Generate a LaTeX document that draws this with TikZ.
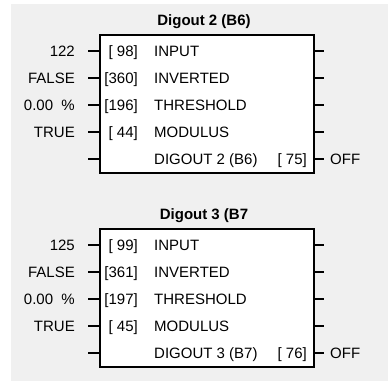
\documentclass[tikz,border=0pt]{standalone}
\usepackage{fontspec}
\setmainfont{Liberation Sans}
\definecolor{panel}{RGB}{240,240,240}

\begin{document}
\begin{tikzpicture}[x=1pt, y=-1pt, every node/.style={font=\fontsize{15}{15}\selectfont, inner sep=0pt, text height=10.7pt, text depth=0pt},
  blk/.style={draw, line width=1.5pt, fill=white, minimum width=214pt, minimum height=138pt, anchor=north west},
  ttl/.style={font=\fontsize{15}{15}\selectfont\bfseries},
  val/.style={anchor=east}, pno/.style={anchor=east}, pname/.style={anchor=west},
  stub/.style={line width=1.5pt}]
\useasboundingbox (0,0) rectangle (388,381);
\fill[panel] (11,4) rectangle (388,381);
% Digout 2
\node[blk] (dig2) at (99,34) {};
\node[ttl] (dig2t) at (204,20) {Digout 2 (B6)};
\node[val] (v21) at (75,51) {122}; \node[pno] (p21) at (138,51) {[ 98]}; \node[pname] (n21) at (154,51) {INPUT};
\node[val] (v22) at (75,78) {FALSE}; \node[pno] (p22) at (138,78) {[360]}; \node[pname] (n22) at (154,78) {INVERTED};
\node[val] (v23) at (75,105) {0.00\ \ \%}; \node[pno] (p23) at (138,105) {[196]}; \node[pname] (n23) at (154,105) {THRESHOLD};
\node[val] (v24) at (75,132) {TRUE}; \node[pno] (p24) at (138,132) {[ 44]}; \node[pname] (n24) at (154,132) {MODULUS};
\node[pname] (n25) at (154,159) {DIGOUT 2 (B6)}; \node[pno] (p25) at (307,159) {[ 75]};
\node[pname] (o2) at (330,159) {OFF};
\draw[stub] (dig2.west |- p21) -- ++(-11,0); \draw[stub] (dig2.west |- p22) -- ++(-11,0);
\draw[stub] (dig2.west |- p23) -- ++(-11,0); \draw[stub] (dig2.west |- p24) -- ++(-11,0);
\draw[stub] (dig2.west |- n25) -- ++(-11,0);
\draw[stub] (dig2.east |- n21) -- ++(9,0); \draw[stub] (dig2.east |- n22) -- ++(9,0);
\draw[stub] (dig2.east |- n23) -- ++(9,0); \draw[stub] (dig2.east |- n24) -- ++(9,0);
\draw[stub] (dig2.east |- p25) -- ++(9,0);
% Digout 3
\node[blk] (dig3) at (99,228) {};
\node[ttl] (dig3t) at (204,214) {Digout 3 (B7};
\node[val] (v31) at (75,245) {125}; \node[pno] (p31) at (138,245) {[ 99]}; \node[pname] (n31) at (154,245) {INPUT};
\node[val] (v32) at (75,272) {FALSE}; \node[pno] (p32) at (138,272) {[361]}; \node[pname] (n32) at (154,272) {INVERTED};
\node[val] (v33) at (75,299) {0.00\ \ \%}; \node[pno] (p33) at (138,299) {[197]}; \node[pname] (n33) at (154,299) {THRESHOLD};
\node[val] (v34) at (75,326) {TRUE}; \node[pno] (p34) at (138,326) {[ 45]}; \node[pname] (n34) at (154,326) {MODULUS};
\node[pname] (n35) at (154,353) {DIGOUT 3 (B7)}; \node[pno] (p35) at (307,353) {[ 76]};
\node[pname] (o3) at (330,353) {OFF};
\draw[stub] (dig3.west |- p31) -- ++(-11,0); \draw[stub] (dig3.west |- p32) -- ++(-11,0);
\draw[stub] (dig3.west |- p33) -- ++(-11,0); \draw[stub] (dig3.west |- p34) -- ++(-11,0);
\draw[stub] (dig3.west |- n35) -- ++(-11,0);
\draw[stub] (dig3.east |- n31) -- ++(9,0); \draw[stub] (dig3.east |- n32) -- ++(9,0);
\draw[stub] (dig3.east |- n33) -- ++(9,0); \draw[stub] (dig3.east |- n34) -- ++(9,0);
\draw[stub] (dig3.east |- p35) -- ++(9,0);
\end{tikzpicture}
\end{document}
